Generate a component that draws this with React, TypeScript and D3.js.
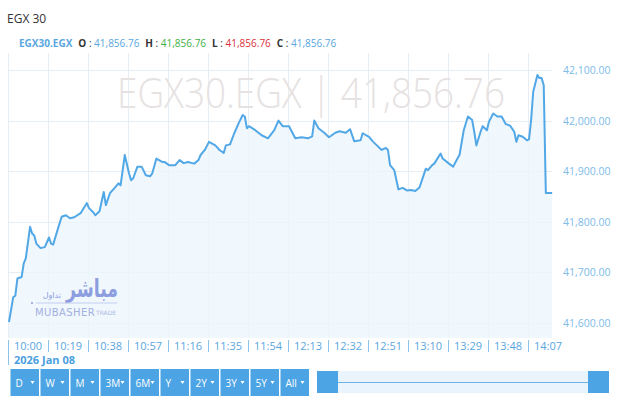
import * as d3 from "d3"

// minutes after 10:00 and index level
const minutesFromOpen = [
  0, 2, 3, 4, 6, 7, 8, 10, 11, 12, 13, 15, 17, 19, 20, 21, 23, 25, 27, 29,
  31, 34, 37, 38, 40, 41, 43, 45, 46, 48, 50, 52, 53, 55, 57, 58, 59, 61, 63, 65,
  67, 68, 70, 73, 74, 76, 79, 81, 83, 85, 88, 90, 91, 93, 95, 98, 100, 102, 103, 105,
  107, 109, 111, 112, 113, 114, 117, 120, 123, 126, 128, 130, 133, 134, 136, 139, 142, 144, 145, 147,
  150, 152, 155, 157, 160, 162, 164, 167, 168, 171, 173, 175, 177, 179, 180, 181, 183, 185, 187, 189,
  191, 193, 195, 198, 199, 201, 202, 205, 206, 209, 211, 213, 214, 216, 218, 220, 221, 222, 224, 225,
  227, 228, 230, 232, 234, 236, 238, 240, 241, 242, 244, 246, 247, 248, 249, 251, 252, 253, 254, 255,
  258,
]
const levels = [
  41602, 41651, 41654, 41688, 41691, 41718, 41728, 41790, 41777, 41773, 41757, 41748, 41750, 41769, 41757, 41755, 41783, 41810, 41813, 41807,
  41809, 41817, 41837, 41827, 41819, 41813, 41821, 41859, 41833, 41857, 41866, 41876, 41872, 41932, 41896, 41882, 41886, 41909, 41909, 41892,
  41890, 41895, 41925, 41918, 41918, 41912, 41912, 41922, 41916, 41918, 41915, 41922, 41932, 41942, 41958, 41951, 41942, 41936, 41951, 41953,
  41975, 41994, 42011, 42008, 41985, 41989, 41981, 41971, 41965, 41981, 42000, 41989, 41989, 41981, 41965, 41967, 41965, 41969, 42000, 41985,
  41975, 41967, 41976, 41979, 41976, 41983, 41959, 41961, 41975, 41968, 41958, 41950, 41942, 41946, 41942, 41912, 41902, 41864, 41867, 41862,
  41863, 41861, 41868, 41905, 41902, 41912, 41915, 41935, 41925, 41915, 41909, 41925, 41932, 41981, 42008, 42001, 41978, 41951, 41978, 41989,
  41981, 41998, 42014, 42008, 42008, 41993, 41990, 41978, 41958, 41971, 41968, 41961, 41963, 42001, 42057, 42090, 42084, 42084, 42070, 41856.76,
  41856.76,
]

const yTicks = [41600, 41700, 41800, 41900, 42000, 42100]
const xTickMinutes = [0, 19, 38, 57, 76, 95, 114, 133, 152, 171, 190, 209, 228, 247]
const rangeButtons = ["D", "W", "M", "3M", "6M", "Y", "2Y", "3Y", "5Y", "All"]
const symbol = "EGX30.EGX"
const lastValue = "41,856.76"
const ohlc = [
  { k: "O", v: lastValue, c: "#5aa6e0" },
  { k: "H", v: lastValue, c: "#3cb043" },
  { k: "L", v: lastValue, c: "#d9303a" },
  { k: "C", v: lastValue, c: "#5aa6e0" },
]

const FONT = "'Open Sans', 'Noto Sans', sans-serif"
const BLUE = "#4ca4e4"

export default function App() {
  const W = 640
  const H = 396
  const plotTop = 53
  const plotBottom = 338
  const gridLeft = 8
  const gridRight = 552

  const x = d3.scaleLinear().domain([0, 247]).range([9, 529])
  const y = d3.scaleLinear().domain([41600, 42100]).range([323, 70])

  const pts = minutesFromOpen.map((m, i) => [m, levels[i]] as [number, number])
  const line = d3.line<[number, number]>().x(d => x(d[0])).y(d => y(d[1]))
  const area = d3.area<[number, number]>().x(d => x(d[0])).y0(plotBottom).y1(d => y(d[1]))

  const fmtY = d3.format(",.2f")
  const fmtT = (m: number) => {
    const t = 600 + m
    return `${Math.floor(t / 60)}:${String(t % 60).padStart(2, "0")}`
  }

  return (
    <svg width={W} height={H} style={{ position: "absolute", left: 0, top: 0, fontFamily: FONT }}>
      <rect width={W} height={H} fill="#fff" />
      <text x={7} y={23} fontSize={12} fill="#333">EGX 30</text>

      {/* legend */}
      <text x={19} y={47} fontSize={10}>
        <tspan fill="#5aa6e0" fontWeight={700}>{symbol}</tspan>
        {ohlc.map(o => (
          <tspan key={o.k}>
            <tspan dx={6} fill="#333" fontWeight={700}>{o.k}</tspan>
            <tspan fill="#333"> : </tspan>
            <tspan fill={o.c}>{o.v}</tspan>
          </tspan>
        ))}
      </text>

      {/* grid */}
      <g stroke="#e6edf3" strokeWidth={1}>
        {yTicks.map(t => (
          <line key={t} x1={gridLeft} x2={gridRight} y1={Math.round(y(t)) + 0.5} y2={Math.round(y(t)) + 0.5} />
        ))}
        {xTickMinutes.map(m => (
          <line key={m} x1={Math.round(x(m)) - 0.5} x2={Math.round(x(m)) - 0.5} y1={plotTop} y2={plotBottom} />
        ))}
      </g>

      {/* watermark */}
      <text x={117} y={108} fontSize={42} fontWeight={300} fill="#e6e2e2"
        textLength={388} lengthAdjust="spacingAndGlyphs">{`${symbol} | ${lastValue}`}</text>

      {/* series */}
      <path d={area(pts) || ""} fill="#ecf5fd" fillOpacity={0.8} />

      {/* logo */}
      <g fontFamily="'DejaVu Sans', sans-serif">
        <text x={66} y={297} fontSize={25} fontWeight={700} fill="#8c9de0"
          textLength={52} lengthAdjust="spacingAndGlyphs">مباشر</text>
        <text x={61} y={298} fontSize={8} fill="#8c9de0" textAnchor="end">تداول</text>
        <line x1={36} x2={117} y1={303} y2={303} stroke="#c3cdee" />
        <circle cx={32} cy={303} r={1} fill="#8c9de0" />
        <text x={35} y={316} fontSize={10} fill="#a3b1e2" letterSpacing={0.4}>MUBASHER</text>
        <text x={96} y={315} fontSize={6} fill="#aeb9e6">TRADE</text>
      </g>

      <path d={line(pts) || ""} fill="none" stroke="#52a8e6" strokeWidth={2} strokeLinejoin="round" />

      {/* y axis labels */}
      {yTicks.map(t => (
        <text key={t} x={563} y={y(t) + 4} fontSize={10.5} fill="#7dbbe8">{fmtY(t)}</text>
      ))}

      {/* x axis */}
      {xTickMinutes.map((m, i) => (
        <g key={m}>
          <line x1={Math.round(x(m)) - 0.5} x2={Math.round(x(m)) - 0.5} y1={340} y2={i === 0 ? 365 : 352} stroke="#8cc3ea" />
          <text x={x(m) + 5} y={350} fontSize={11} fill="#5aa6e0">{fmtT(m)}</text>
        </g>
      ))}
      <text x={14} y={364} fontSize={11} fontWeight={700} fill="#4a9fe0">2026 Jan 08</text>

      {/* range buttons */}
      {rangeButtons.map((b, i) => {
        const bx = 10.5 + i * 30
        return (
          <g key={b}>
            <rect x={bx} y={369} width={28.5} height={27} fill={BLUE} />
            <text x={bx + 5} y={387} fontSize={10} fill="#fff">{b}</text>
            <path d={`M${bx + 20},${381} l4,0 l-2,3 z`} fill="#fff" />
          </g>
        )
      })}

      {/* navigator */}
      <rect x={317} y={371} width={292} height={22} fill="#eaf4fc" />
      <line x1={330} x2={595} y1={382.5} y2={382.5} stroke="#6fb2e6" />
      <rect x={317} y={371} width={21} height={22} fill={BLUE} />
      <rect x={588} y={371} width={21} height={22} fill={BLUE} />
    </svg>
  )
}
